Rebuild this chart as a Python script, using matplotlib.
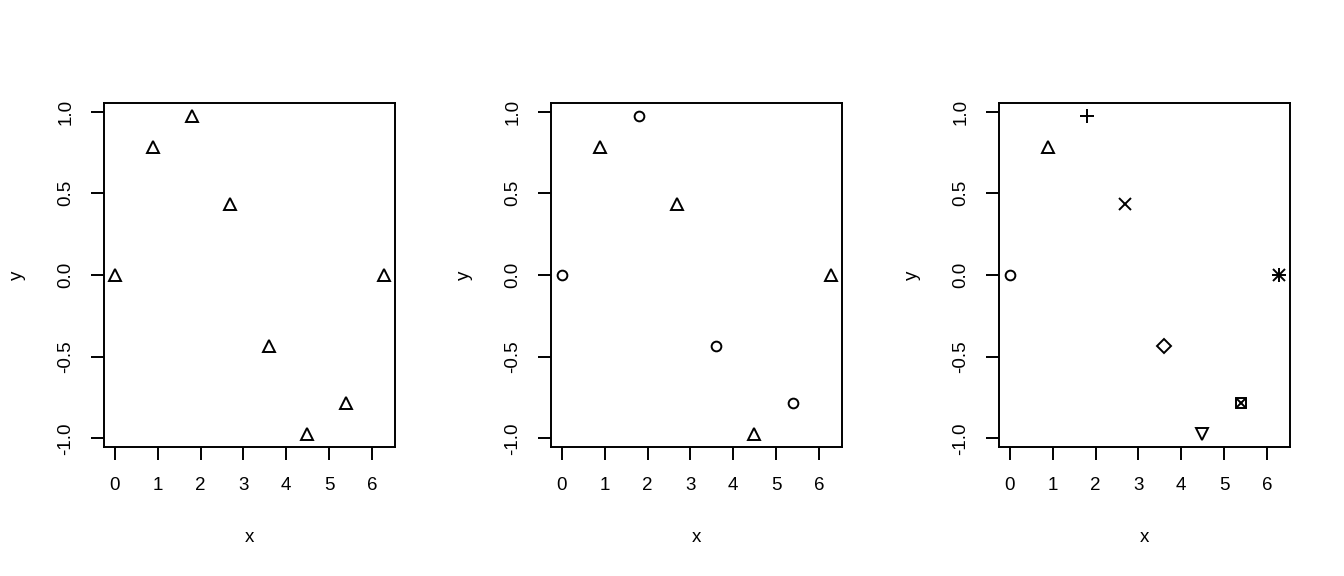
import matplotlib.pyplot as plt

x = [0.0, 0.898, 1.795, 2.693, 3.590, 4.488, 5.386, 6.283]
y = [0.0, 0.782, 0.975, 0.434, -0.434, -0.975, -0.782, 0.0]

# R pch codes per point for each panel
panel_pch = [
    [2, 2, 2, 2, 2, 2, 2, 2],
    [1, 2, 1, 2, 1, 2, 1, 2],
    [1, 2, 3, 4, 5, 6, 7, 8],
]

x_ticks = [0, 1, 2, 3, 4, 5, 6]
y_ticks = [-1.0, -0.5, 0.0, 0.5, 1.0]
y_tick_labels = ["-1.0", "-0.5", "0.0", "0.5", "1.0"]

# pch -> list of (marker, size) layers
pch_style = {
    1: [("o", 7)],
    2: [("^", 8.5)],
    3: [("+", 10.5)],
    4: [("x", 8)],
    5: [("D", 7)],
    6: [("v", 8.5)],
    7: [("s", 7.5), ("x", 7.5)],
    8: [("+", 10.5), ("x", 8)],
}

plt.rcParams["font.family"] = ["Liberation Sans", "DejaVu Sans"]
fig = plt.figure(figsize=(13.44, 5.76), dpi=100)

lefts = [104, 551, 999]
W, H = 1344, 576
for left, pchs in zip(lefts, panel_pch):
    ax = fig.add_axes([left / W, (H - 447) / H, 291 / W, 344 / H])
    for xi, yi, p in zip(x, y, pchs):
        for m, s in pch_style[p]:
            ax.plot(xi, yi, marker=m, ms=s, mfc="none", mec="black",
                    mew=1.4, linestyle="none", clip_on=False)
    ax.set_xlim(-0.2513, 6.5345)
    ax.set_ylim(-1.053, 1.053)
    ax.set_xticks(x_ticks)
    ax.set_xticklabels([str(t) for t in x_ticks])
    ax.set_yticks(y_ticks)
    ax.set_yticklabels(y_tick_labels, rotation=90, va="center")
    ax.tick_params(direction="out", length=9.4, width=1.4, pad=12,
                   labelsize=13.5, colors="black")
    for sp in ax.spines.values():
        sp.set_linewidth(1.4)
    ax.set_xlabel("x", fontsize=13.5)
    ax.set_ylabel("y", fontsize=13.5)
    ax.xaxis.set_label_coords(0.5, -0.262)
    ax.yaxis.set_label_coords(-0.297, 0.5)
    ax.xaxis.label.set_va("center")
    ax.yaxis.label.set_va("center")

fig.savefig("out.png", dpi=100)
